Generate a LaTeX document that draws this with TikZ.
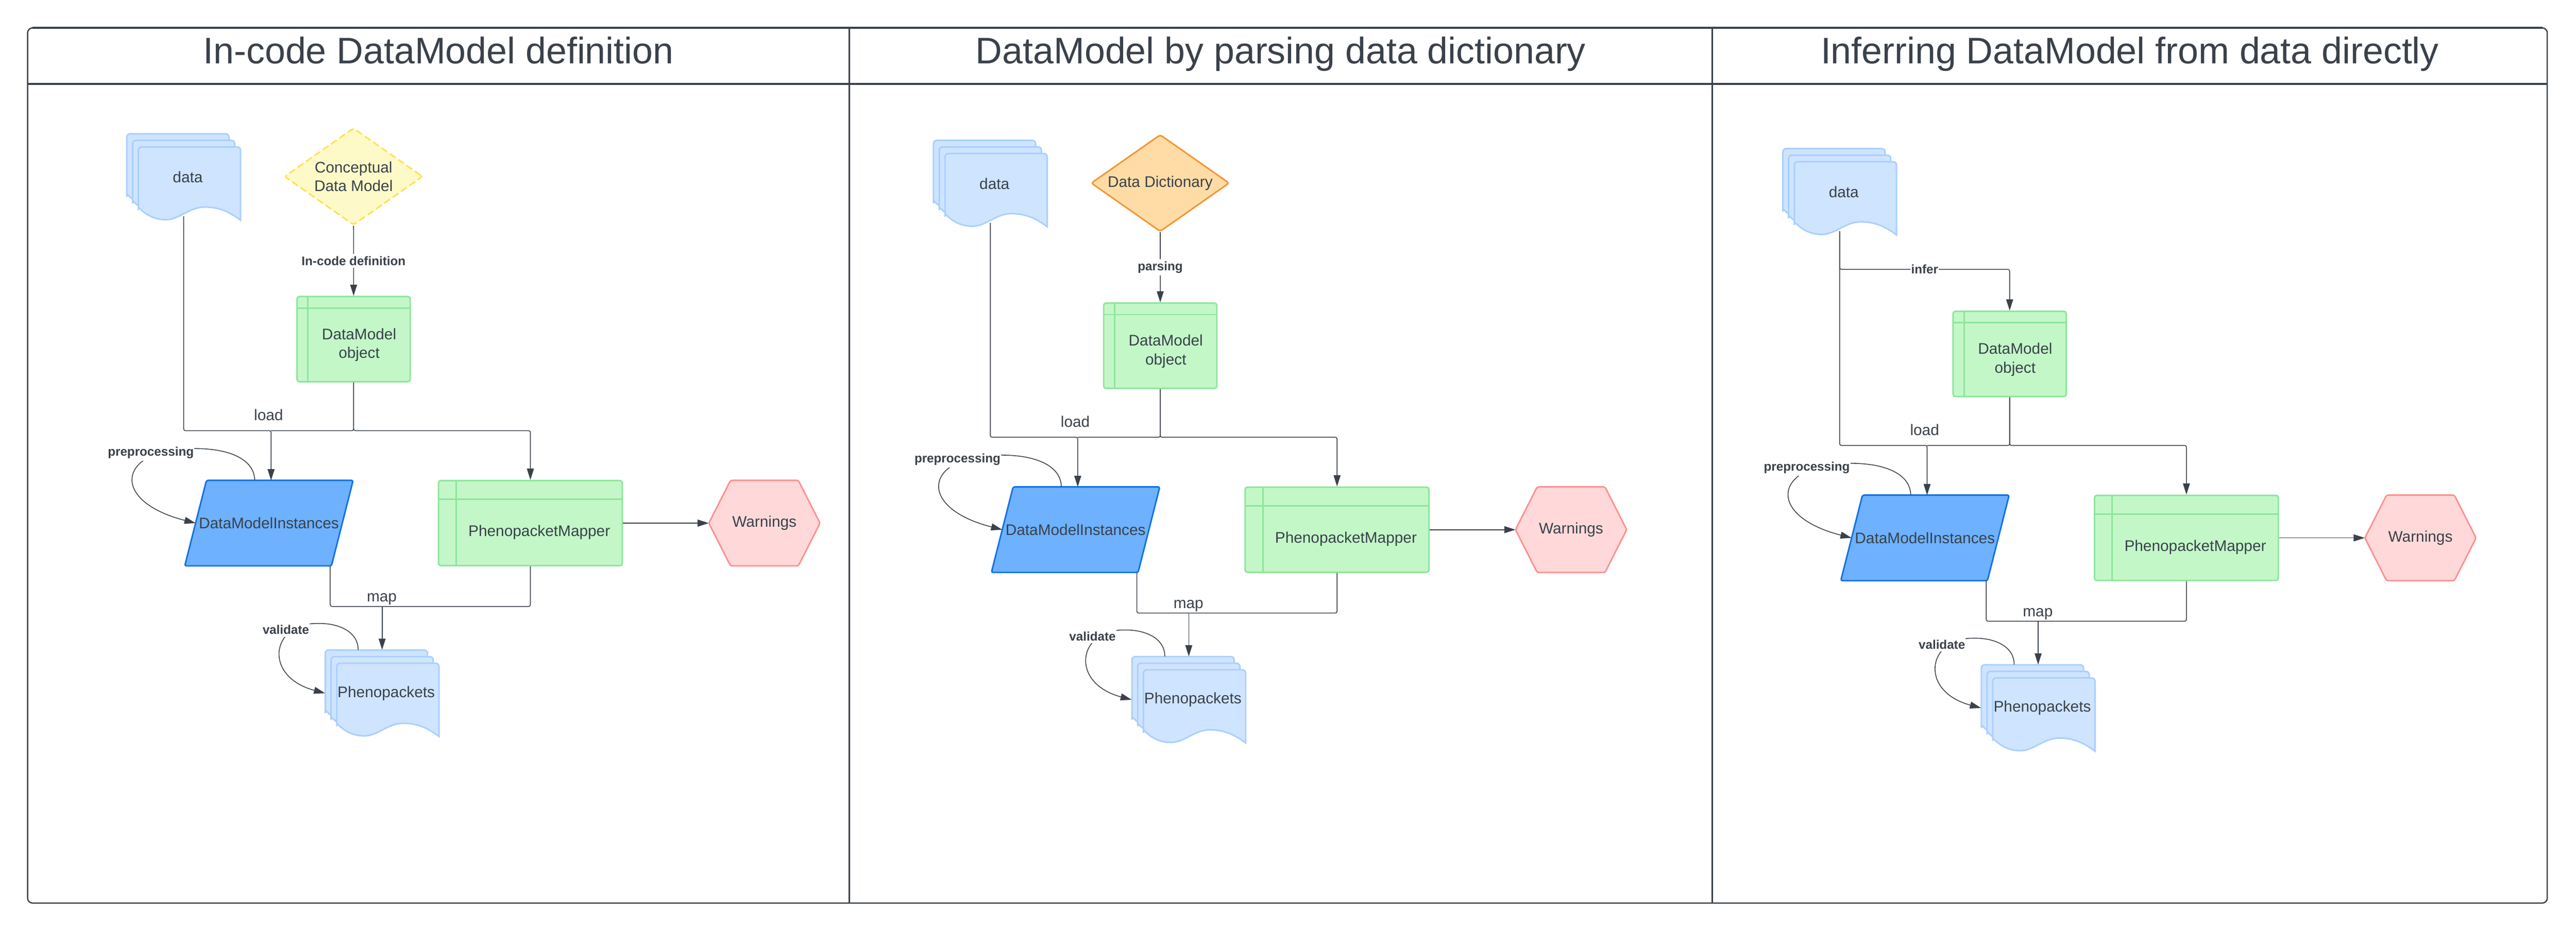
\documentclass[tikz,border=0pt]{standalone}
\usepackage{fontspec}
\setmainfont{Liberation Sans}
\usetikzlibrary{arrows.meta,calc,backgrounds,shapes.geometric}

\definecolor{ink}{HTML}{3A414A}
\definecolor{docfill}{HTML}{CFE4FF}
\definecolor{docline}{HTML}{A9CFFF}
\definecolor{objfill}{HTML}{C3F7C8}
\definecolor{objline}{HTML}{8EE59B}
\definecolor{dmifill}{HTML}{6DB1FF}
\definecolor{dmiline}{HTML}{1071E5}
\definecolor{warnfill}{HTML}{FFD9D9}
\definecolor{warnline}{HTML}{FF8F8F}
\definecolor{dictfill}{HTML}{FFDCA6}
\definecolor{dictline}{HTML}{F7932E}
\definecolor{cdmfill}{HTML}{FDFAC8}
\definecolor{cdmline}{HTML}{FFE14D}

\newlength{\unitpx}
\setlength{\unitpx}{0.05cm}

\newcommand{\boxfont}{\fontsize{13.3}{16.4}\selectfont}
\newcommand{\lblfont}{\fontsize{10.8}{13}\selectfont\bfseries}
\newcommand{\headfont}{\fontsize{32}{38}\selectfont}

\tikzset{
    frameline/.style={draw=ink, line width=1.1pt},
    headline/.style={draw=ink, line width=1.6pt},
    headtxt/.style={font=\headfont, text=ink, anchor=base},
    conn/.style={draw=ink, line width=0.7pt, rounded corners=1.5pt},
    plainlbl/.style={font=\boxfont, text=ink, anchor=base, inner sep=0pt},
    edgelbl/.style={font=\lblfont, text=ink, fill=white, inner xsep=0.5pt, inner ysep=2pt},
    docsheet/.style={draw=docline, fill=docfill, line width=1.3pt},
    docnode/.style={inner sep=0pt, minimum width=69.2\unitpx, minimum height=52.6\unitpx, font=\boxfont, text=ink},
    objbox/.style 2 args={draw=objline, fill=objfill, line width=1.3pt, rounded corners=2pt, inner sep=0pt,
        path picture={
            \draw[objline, line width=1.3pt] ([xshift=#1\unitpx]path picture bounding box.north west) -- ([xshift=#1\unitpx]path picture bounding box.south west);
            \draw[objline, line width=1.3pt] ([yshift=-#2\unitpx]path picture bounding box.north west) -- ([yshift=-#2\unitpx]path picture bounding box.north east);
        }},
    boxlbl/.style={font=\boxfont, text=ink, align=center},
    dmibox/.style={minimum width=102.2\unitpx, minimum height=51.8\unitpx, inner sep=0pt, font=\boxfont, text=ink},
    dmishape/.style={draw=dmiline, fill=dmifill, line width=1.3pt, rounded corners=1.5pt},
    warnbox/.style={minimum width=67.4\unitpx, minimum height=51.8\unitpx, inner sep=0pt, font=\boxfont, text=ink},
    warnshape/.style={draw=warnline, fill=warnfill, line width=1.3pt, rounded corners=1.5pt},
    dictnode/.style={diamond, aspect=1.425, draw=dictline, fill=dictfill, line width=1.3pt, rounded corners=2pt,
        minimum width=84.2\unitpx, minimum height=59.1\unitpx, inner sep=0pt, font=\boxfont, text=ink, align=center},
    cdmnode/.style={dictnode, draw=cdmline, fill=cdmfill, dash pattern=on 6pt off 2.8pt},
}

\newcommand{\docstack}[4]{%
    \foreach \k in {0,1,2}{
        \begin{scope}[shift={(#2+3.5*\k,#3+4*\k)}]
            \draw[docsheet] (62.2,44.6) [rounded corners=2\unitpx] -- (62.2,0) -- (0,0) -- (0,36.5) [sharp corners] -- (0,36.6)
                .. controls (5,42) and (10.6,44.3) .. (16.8,44.3)
                .. controls (24.9,44.3) and (31.1,36.6) .. (40.4,36.6)
                .. controls (49.8,36.6) and (56,40) .. cycle;
        \end{scope}
    }
    \node[docnode] (#1) at (#2+34.6,#3+26.3) {\hspace*{5\unitpx}#4};
}

\begin{document}
\begin{tikzpicture}[x=0.05cm, y=-0.05cm, >={Triangle[length=0.34cm,width=0.21cm]}]
    \useasboundingbox (0,0) rectangle (1568,568.15);

    \draw[frameline, rounded corners=3\unitpx] (16.8,17) rectangle (1550.5,550);
    \draw[headline] (19.8,17) -- (1547.5,17);
    \draw[headline] (16.8,51.2) -- (1550.5,51.2);
    \draw[frameline] (517,17) -- (517,550);
    \draw[frameline] (1042.2,17) -- (1042.2,550);

    \node[headtxt] (title1) at (266.9,38.6) {In-code DataModel definition};
    \node[headtxt] (title2) at (779.6,38.6) {DataModel by parsing data dictionary};
    \node[headtxt] (title3) at (1296.4,38.6) {Inferring DataModel from data directly};

    \foreach \i/\dx/\dy in {1/0/0, 2/491/4, 3/1008/9}{
        \begin{scope}[shift={(\dx,\dy)}]
            \docstack{data\i}{77.2}{81.5}{data}
            \docstack{pheno\i}{198}{395.9}{Phenopackets}

            \node[objbox={6.7}{7}, minimum width=68.9\unitpx, minimum height=51.9\unitpx,
                label={[boxlbl, xshift=3.35\unitpx, yshift=-3.5\unitpx]center:{DataModel\\object}}] (dmo\i) at (215.25,206.55) {};
            \node[objbox={10.8}{11.3}, minimum width=111.9\unitpx, minimum height=51.8\unitpx,
                label={[boxlbl, xshift=5.4\unitpx, yshift=-5.65\unitpx]center:PhenopacketMapper}] (pm\i) at (322.85,318.6) {};
            \node[dmibox] (dmi\i) at (163.7,318.6) {DataModelInstances};
            \node[warnbox] (warn\i) at (465.3,318.6) {Warnings};
            \begin{scope}[on background layer]
                \draw[dmishape] ([xshift=13.2\unitpx]dmi\i.north west) -- (dmi\i.north east)
                    -- ([xshift=-13.2\unitpx]dmi\i.south east) -- (dmi\i.south west) -- cycle;
                \draw[warnshape] (warn\i.west) -- ([xshift=13.2\unitpx]warn\i.north west) -- ([xshift=-13.2\unitpx]warn\i.north east)
                    -- (warn\i.east) -- ([xshift=-13.2\unitpx]warn\i.south east) -- ([xshift=13.2\unitpx]warn\i.south west) -- cycle;
            \end{scope}

            \coordinate (ld\i) at (165,262.3);
            \draw[conn, ->] ($(data\i.south)+(0,-2.5)$) |- (ld\i) -- (ld\i |- dmi\i.north);
            \draw[conn] (dmo\i.south) |- (ld\i);
            \draw[conn, ->] (dmo\i.south) |- (pm\i.north |- ld\i) -- (pm\i.north);
            \node[plainlbl] (load\i) at (163.5,256) {load};

            \draw[conn, ->] ($(dmi\i.north)+(-8.7,0)$) .. controls (155,280) and (140,273.2) .. (118,273.2)
                .. controls (72,273.2) and (66,305) .. ($(dmi\i.west)+(6.6,0)$);
            \node[edgelbl] (prep\i) at (91.8,275.8) {preprocessing};

            \draw[conn, ->] (pm\i.east) -- (warn\i.west);

            \coordinate (mp\i) at ($(pheno\i.north)+(0,-26.4)$);
            \draw[conn] ($(dmi\i.south)+(37.3,0)$) |- (mp\i);
            \draw[conn] (pm\i.south) |- (mp\i);
            \draw[conn, ->] (mp\i) -- (pheno\i.north);
            \node[plainlbl] (map\i) at (232.4,366.5) {map};

            \draw[conn, ->] ($(pheno\i.north)+(-14.6,0)$) .. controls (218,384) and (205,379.7) .. (193.7,379.7)
                .. controls (165,379.7) and (160,412) .. (pheno\i.west);
            \node[edgelbl] (val\i) at (174,383.6) {validate};
        \end{scope}
    }

    \node[cdmnode] (cdm) at (215.2,107.5) {Conceptual\\Data Model};
    \draw[conn, ->] (cdm) -- node[edgelbl] (incode) {In-code definition} (dmo1);

    \node[dictnode] (dd) at (706.2,111.5) {Data Dictionary};
    \draw[conn, ->] (dd) -- node[edgelbl] (parsing) {parsing} (dmo2);

    \draw[conn, ->] ($(data3.south)+(0,-2.5)$) |- node[edgelbl, pos=0.75] (infer) {infer} ($(dmo3.north)+(0,-25.1)$) -- (dmo3.north);
\end{tikzpicture}
\end{document}
